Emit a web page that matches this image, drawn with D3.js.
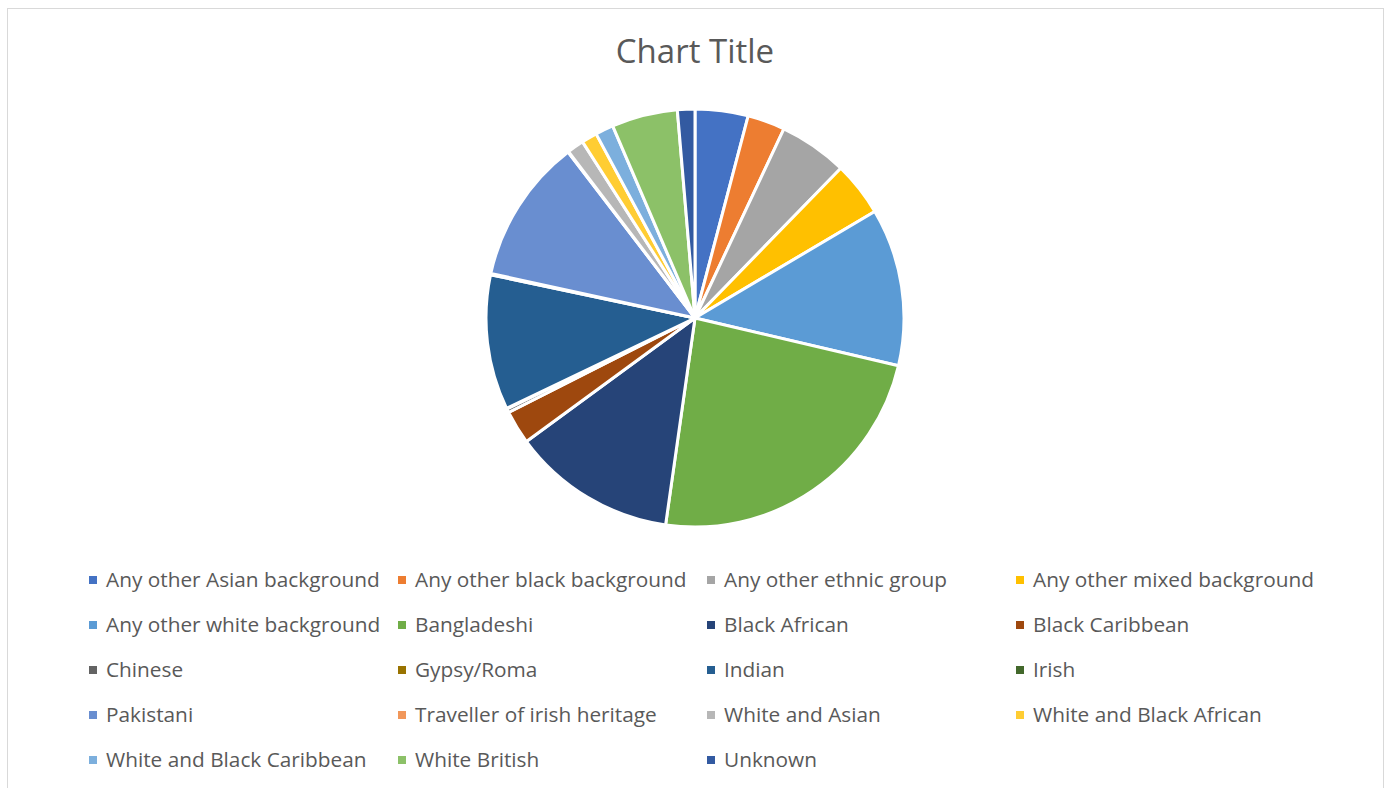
<!DOCTYPE html>
<html>
<head>
<meta charset="utf-8">
<script src="https://cdn.jsdelivr.net/npm/d3@7"></script>
<style>
  html, body { margin: 0; padding: 0; background: #fff; }
  svg { display: block; }
  text { font-family: "Open Sans", "Noto Sans", sans-serif; fill: #595959; }
</style>
</head>
<body>
<svg id="chart" width="1385" height="788"></svg>
<script>
// Pupils by ethnic group (share of total, %)
const categories = [
  "Any other Asian background", "Any other black background", "Any other ethnic group",
  "Any other mixed background", "Any other white background", "Bangladeshi",
  "Black African", "Black Caribbean", "Chinese", "Gypsy/Roma", "Indian", "Irish",
  "Pakistani", "Traveller of irish heritage", "White and Asian",
  "White and Black African", "White and Black Caribbean", "White British", "Unknown"
];
const values = [
  4.1, 2.9, 5.3, 4.2, 12.2, 23.6,
  12.7, 2.6, 0.3, 0.05, 10.45, 0.1,
  11.2, 0.05, 1.3,
  1.2, 1.4, 5.1, 1.35
];
const colors = [
  "#4472C4", "#ED7D31", "#A5A5A5", "#FFC000", "#5B9BD5", "#70AD47",
  "#264478", "#9E480E", "#636363", "#997300", "#255E91", "#43682B",
  "#698ED0", "#F1975A", "#B7B7B7", "#FFCD33", "#7CAFDD", "#8CC168", "#335AA1"
];
const title = "Chart Title";

const svg = d3.select("#chart");

// chart area frame
svg.append("rect")
  .attr("x", 7.5).attr("y", 8.5)
  .attr("width", 1376).attr("height", 800)
  .attr("fill", "#fff").attr("stroke", "#D9D9D9").attr("stroke-width", 1);

svg.append("text")
  .attr("x", 695).attr("y", 63)
  .attr("text-anchor", "middle")
  .attr("font-size", 33)
  .text(title);

const data = categories.map((c, i) => ({ name: c, value: values[i], color: colors[i] }));

const pie = d3.pie().value(d => d.value).sort(null);
const arc = d3.arc().innerRadius(0).outerRadius(209);

const g = svg.append("g").attr("transform", "translate(695,318)");
g.selectAll("path")
  .data(pie(data))
  .join("path")
  .attr("d", arc)
  .attr("fill", d => d.data.color)
  .attr("stroke", "#fff")
  .attr("stroke-width", 3)
  .attr("stroke-linejoin", "round");

// legend: 4 columns
const colX = d3.scalePoint().domain([0, 1, 2, 3]).range([89, 1016]);
const rowY = d3.scalePoint().domain([0, 1, 2, 3, 4]).range([580, 760]);

const legend = svg.append("g");
const items = legend.selectAll("g")
  .data(data)
  .join("g")
  .attr("transform", (d, i) => `translate(${colX(i % 4)},${rowY(Math.floor(i / 4))})`);

items.append("rect")
  .attr("x", 0).attr("y", -4)
  .attr("width", 8).attr("height", 8)
  .attr("fill", d => d.color);

items.append("text")
  .attr("x", 17).attr("y", 7)
  .attr("font-size", 20.8)
  .text(d => d.name);
</script>
</body>
</html>
